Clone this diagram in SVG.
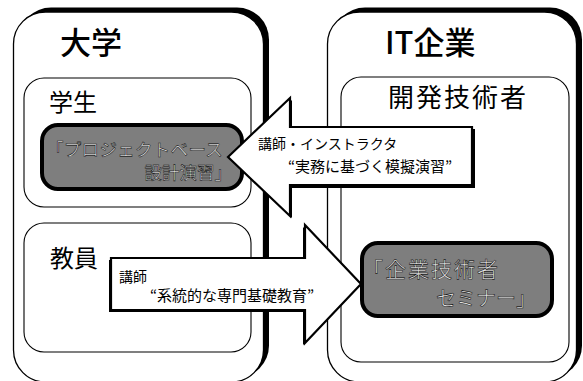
<svg xmlns="http://www.w3.org/2000/svg" width="583" height="381" viewBox="0 0 583 381">
<style>
.t{font-family:"Noto Sans CJK JP","Noto Sans",sans-serif;fill:#000}
.outer{fill:#fff;stroke:#000;stroke-width:1.3}
.shadow{fill:#000}
.inner{fill:#fff;stroke:#000;stroke-width:1.1}
.gray{fill:#7e7e7e;stroke:#000;stroke-width:4}
.gt{font-family:"Noto Sans CJK JP","Noto Sans",sans-serif;fill:#e4e4e4;stroke:#1a1a1a;stroke-width:0.6}
.arrow{fill:#fff;stroke:#000;stroke-width:2.2;stroke-linejoin:miter}
</style>
<rect width="583" height="381" fill="#fff"/>
<g id="daigaku">
<rect class="shadow" x="19" y="7.5" width="250" height="370" rx="32"/>
<rect class="outer" x="13.5" y="12" width="250" height="370" rx="32"/>
<text class="t" x="60" y="54" font-size="31" font-weight="500">大学</text>
</g>
<g id="it-kigyo">
<rect class="shadow" x="333" y="7.5" width="249" height="370" rx="32"/>
<rect class="outer" x="327.5" y="12" width="249" height="370" rx="32"/>
<text class="t" x="385" y="54" font-size="31" font-weight="500">IT企業</text>
</g>
<g id="gakusei">
<rect class="inner" x="24" y="78" width="227" height="129" rx="20"/>
<text class="t" x="49" y="111" font-size="24">学生</text>
</g>
<g id="kyoin">
<rect class="inner" x="24" y="223" width="227" height="129" rx="20"/>
<text class="t" x="50" y="267" font-size="24">教員</text>
</g>
<g id="kaihatsu">
<rect class="inner" x="341" y="77" width="228" height="285" rx="20"/>
<text class="t" x="388" y="107" font-size="26" letter-spacing="2">開発技術者</text>
</g>
<g id="project">
<rect class="gray" x="42" y="125" width="200" height="64" rx="16"/>
<text class="gt" x="46" y="156" font-size="17.5" letter-spacing="0.3">「プロジェクトベース</text>
<text class="gt" x="232" y="179" font-size="17.5" text-anchor="end">設計演習」</text>
</g>
<g id="seminar">
<rect class="gray" x="362" y="243" width="190" height="73" rx="16"/>
<text class="gt" x="362" y="277" font-size="21" letter-spacing="2">「企業技術者</text>
<text class="gt" x="536" y="306" font-size="20" text-anchor="end">セミナー」</text>
</g>
<g id="connectors">
<g id="arrow-left">
<polygon class="shadow" points="231,159 292,100 292,129 475,129 475,188 292,188 292,218"/>
<polygon class="arrow" points="228,157 290,98 290,127 472,127 472,185 290,185 290,216"/>
<text class="t" x="258" y="149" font-size="14">講師・インストラクタ</text>
<text class="t" x="288" y="172" font-size="15">“実務に基づく模擬演習”</text>
</g>
<g id="arrow-right">
<polygon class="shadow" points="109,260 303,260 303,227 359,286 303,345 303,312 109,312"/>
<polygon class="arrow" points="111,258 305,258 305,225 361,284 305,343 305,310 111,310"/>
<text class="t" x="119" y="282" font-size="14">講師</text>
<text class="t" x="150" y="301" font-size="15">“系統的な専門基礎教育”</text>
</g>
</g>
</svg>
